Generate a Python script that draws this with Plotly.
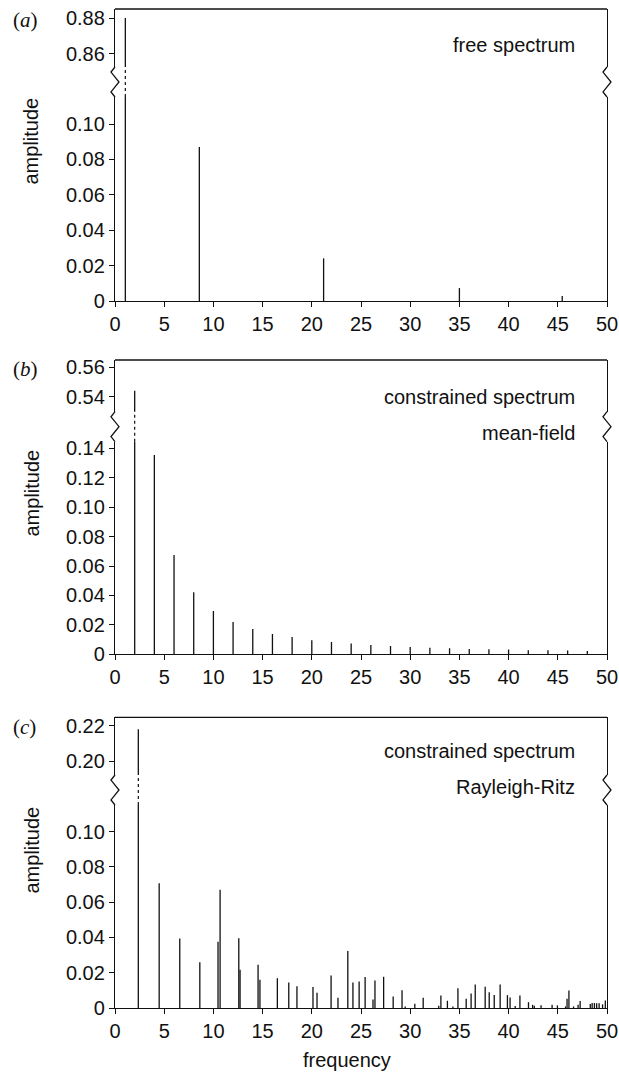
import plotly.graph_objects as go

# ---------------- data ----------------
freq_a = [1.05, 8.57, 21.2, 35.0, 45.45]
amp_a = [0.880, 0.087, 0.0241, 0.0073, 0.0028]

freq_b = [2, 4, 6, 8, 10, 12, 14, 16, 18, 20, 22, 24, 26, 28, 30, 32, 34, 36, 38, 40, 42, 44, 46, 48]
amp_b = [0.544, 0.1355, 0.0675, 0.0421, 0.0294, 0.022, 0.0172, 0.0138, 0.0118, 0.0096,
         0.0083, 0.0073, 0.0063, 0.0057, 0.005, 0.0045, 0.0041, 0.0036, 0.0034, 0.0032,
         0.0027, 0.0027, 0.0025, 0.0023]

freq_c = [2.37, 4.49, 6.58, 8.62, 10.47, 10.68, 12.58, 12.71, 14.54, 14.73,
          16.5, 17.66, 18.49, 20.12, 20.53, 21.96, 22.66, 23.66, 24.18, 24.81,
          25.42, 26.22, 26.42, 27.3, 28.27, 29.17, 29.49, 30.47, 31.32, 32.9,
          33.12, 33.78, 34.34, 34.85, 35.69, 36.19, 36.61, 37.62, 38.03, 38.54,
          39.14, 39.88, 40.15, 40.67, 41.15, 42.02, 42.44, 42.61, 43.3, 44.42,
          44.96, 45.79, 45.94, 46.13, 46.6, 47.06, 47.27, 48.3, 48.49, 48.72,
          48.95, 49.2, 49.55, 49.83]
amp_c = [0.218, 0.0708, 0.0394, 0.0259, 0.0375, 0.067, 0.0396, 0.0217, 0.0245, 0.016,
         0.0169, 0.0145, 0.0124, 0.0119, 0.0086, 0.0184, 0.0058, 0.0323, 0.0144, 0.015,
         0.0176, 0.0048, 0.0156, 0.0177, 0.0065, 0.0101, 0.0008, 0.0024, 0.0058, 0.0013,
         0.0071, 0.0041, 0.0009, 0.0112, 0.0052, 0.0082, 0.0133, 0.0121, 0.0089, 0.0074,
         0.0133, 0.0073, 0.0059, 0.0011, 0.0071, 0.0033, 0.0018, 0.0013, 0.0015, 0.0018,
         0.0015, 0.0009, 0.0052, 0.0099, 0.0009, 0.0018, 0.0039, 0.0022, 0.0028, 0.0028,
         0.0027, 0.0027, 0.0021, 0.0042]

x_ticks = [0, 5, 10, 15, 20, 25, 30, 35, 40, 45, 50]
ticks_a_low = [0, 0.02, 0.04, 0.06, 0.08, 0.10]
labels_a_low = ["0", "0.02", "0.04", "0.06", "0.08", "0.10"]
ticks_a_up = [0.86, 0.88]
labels_a_up = ["0.86", "0.88"]
ticks_b_low = [0, 0.02, 0.04, 0.06, 0.08, 0.10, 0.12, 0.14]
labels_b_low = ["0", "0.02", "0.04", "0.06", "0.08", "0.10", "0.12", "0.14"]
ticks_b_up = [0.54, 0.56]
labels_b_up = ["0.54", "0.56"]
ticks_c_low = [0, 0.02, 0.04, 0.06, 0.08, 0.10]
labels_c_low = ["0", "0.02", "0.04", "0.06", "0.08", "0.10"]
ticks_c_up = [0.20, 0.22]
labels_c_up = ["0.20", "0.22"]

# ---------------- geometry ----------------
W, H = 619, 1074
ML, MR, MT, MB = 115, 12, 9, 66
PW = W - ML - MR
PH = H - MT - MB


def px(x):
    return (x - ML) / PW


def py(y):
    return (H - MB - y) / PH


FONT = "Liberation Sans, Arial, Helvetica, sans-serif"
INK = "#111111"
LW = 1.3

panels = [
    dict(bot=301, brk_lo=97, brk_hi=67, top=9,
         low_range=[0, 0.1153], up_range=[0.8525, 0.8851],
         f=freq_a, a=amp_a, tl=ticks_a_low, ll=labels_a_low, tu=ticks_a_up, lu=labels_a_up,
         tag="a", texts=[("free spectrum", 45)]),
    dict(bot=654.3, brk_lo=441.7, brk_hi=411.7, top=360,
         low_range=[0, 0.1445], up_range=[0.5298, 0.565],
         f=freq_b, a=amp_b, tl=ticks_b_low, ll=labels_b_low, tu=ticks_b_up, lu=labels_b_up,
         tag="b", texts=[("constrained spectrum", 397.3), ("mean-field", 433)]),
    dict(bot=1008, brk_lo=805, brk_hi=775, top=717.3,
         low_range=[0, 0.1151], up_range=[0.1921, 0.2248],
         f=freq_c, a=amp_c, tl=ticks_c_low, ll=labels_c_low, tu=ticks_c_up, lu=labels_c_up,
         tag="c", texts=[("constrained spectrum", 751), ("Rayleigh-Ritz", 786.7)]),
]

fig = go.Figure()
layout = dict(
    width=W, height=H,
    margin=dict(l=ML, r=MR, t=MT, b=MB),
    paper_bgcolor="white", plot_bgcolor="white",
    showlegend=False,
    font=dict(family=FONT, size=20, color=INK),
)
shapes = []
annotations = []

for i, p in enumerate(panels):
    xn = "x" if i == 0 else f"x{i + 1}"
    xkey = "xaxis" if i == 0 else f"xaxis{i + 1}"
    lo_n = 2 * i + 1
    up_n = 2 * i + 2
    ylo = "y" if lo_n == 1 else f"y{lo_n}"
    yup = f"y{up_n}"
    ylo_key = "yaxis" if lo_n == 1 else f"yaxis{lo_n}"
    yup_key = f"yaxis{up_n}"

    xs, ys = [], []
    for f, a in zip(p["f"], p["a"]):
        xs += [f, f, None]
        ys += [0, a, None]
    for yax in (ylo, yup):
        fig.add_trace(go.Scatter(x=xs, y=ys, mode="lines", xaxis=xn, yaxis=yax,
                                 line=dict(color=INK, width=LW), hoverinfo="skip"))

    layout[xkey] = dict(
        domain=[0, 1], anchor=ylo, range=[0, 50], tickvals=x_ticks,
        ticktext=[str(t) for t in x_ticks], ticks="outside", ticklen=5, tickwidth=LW,
        tickcolor=INK, showline=True, linecolor=INK, linewidth=LW, showgrid=False,
        zeroline=False, tickfont=dict(family=FONT, size=20, color=INK), automargin=False,
    )
    common_y = dict(
        anchor=xn, ticks="outside", ticklen=5, tickwidth=LW, tickcolor=INK,
        showline=True, mirror=True, linecolor=INK, linewidth=LW, showgrid=False,
        zeroline=False, tickfont=dict(family=FONT, size=20, color=INK), automargin=False,
    )
    layout[ylo_key] = dict(domain=[py(p["bot"]), py(p["brk_lo"])], range=p["low_range"],
                           tickvals=p["tl"], ticktext=p["ll"], **common_y)
    layout[yup_key] = dict(domain=[py(p["brk_hi"]), py(p["top"])], range=p["up_range"],
                           tickvals=p["tu"], ticktext=p["lu"], **common_y)

    shapes.append(dict(type="line", xref="paper", yref="paper", x0=0, x1=1,
                       y0=py(p["top"]), y1=py(p["top"]),
                       line=dict(color=INK, width=LW)))
    ht = p["brk_hi"]
    hb = p["brk_lo"]
    h = hb - ht
    for xe in (ML, ML + PW):
        pts = [(xe, ht), (xe - 4, ht + 0.17 * h), (xe + 4, ht + 0.5 * h),
               (xe - 4, ht + 0.83 * h), (xe, hb)]
        path = "M " + " L ".join(f"{px(x):.5f},{py(y):.5f}" for x, y in pts)
        shapes.append(dict(type="path", xref="paper", yref="paper", path=path,
                           line=dict(color=INK, width=LW)))
    shapes.append(dict(type="line", xref=xn, yref="paper", x0=p["f"][0], x1=p["f"][0],
                       y0=py(hb), y1=py(ht), line=dict(color=INK, width=1.2, dash="dot")))

    for txt, yy in p["texts"]:
        annotations.append(dict(text=txt, xref="paper", yref="paper", x=px(576.7), y=py(yy),
                                xanchor="right", yanchor="middle", showarrow=False,
                                font=dict(family=FONT, size=20, color=INK)))
    tag_y = [20, 369, 727][i]
    annotations.append(dict(text=f"(<i>{p['tag']}</i>)", xref="paper", yref="paper",
                            x=px(11), y=py(tag_y), xanchor="left", yanchor="middle",
                            showarrow=False,
                            font=dict(family="Liberation Serif, Times New Roman, serif",
                                      size=21, color=INK)))
    amp_y = [141.5, 493.5, 850.5][i]
    annotations.append(dict(text="amplitude", xref="paper", yref="paper", x=px(31), y=py(amp_y),
                            xanchor="center", yanchor="middle", textangle=-90, showarrow=False,
                            font=dict(family=FONT, size=20, color=INK)))

annotations.append(dict(text="frequency", xref="paper", yref="paper", x=px(346.7), y=py(1060),
                        xanchor="center", yanchor="middle", showarrow=False,
                        font=dict(family=FONT, size=20, color=INK)))

layout["shapes"] = shapes
layout["annotations"] = annotations
fig.update_layout(**layout)
fig.write_html("out.html", config={"displayModeBar": False},
               post_script="document.body.style.margin='0';document.body.style.padding='0';")
